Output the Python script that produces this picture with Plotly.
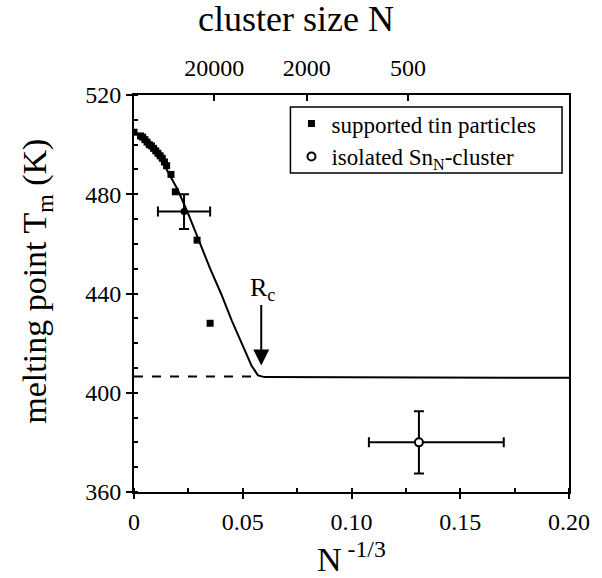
import numpy as np
import plotly.graph_objects as go

# Supported tin particles (N^-1/3, Tm in K)
sup_x = [0.0, 0.003, 0.004, 0.005, 0.006, 0.007, 0.008, 0.009, 0.010, 0.011, 0.012,
         0.013, 0.014, 0.015, 0.017, 0.019, 0.029, 0.035]
sup_y = [505, 503.5, 503, 502, 501, 500, 499.5, 498.5, 497.5, 496.5, 495.5,
         494.5, 493, 491.5, 488, 481, 461.5, 428]

# Supported point with error bars
eb_x = [0.023]
eb_y = [473]
eb_xerr = [0.012]
eb_yerr = [7]

# Isolated Sn_N cluster
iso_x = [0.131]
iso_y = [380]
iso_xerr_plus = [0.039]
iso_xerr_minus = [0.023]
iso_yerr = [12.5]

# Theory curve
th_x = [0.0, 0.005, 0.01, 0.015, 0.02, 0.025, 0.03, 0.035, 0.04, 0.045, 0.05, 0.054, 0.057, 0.06, 0.2]
th_y = [505.5, 502, 497, 490, 482, 472, 461, 450, 440, 429, 419, 411, 407, 406.3, 406]

# Bulk-limit dashed line
dash_x = [0.0, 0.057]
dash_y = [406.5, 406.5]

# Top axis cluster sizes
top_N = [20000, 2000, 500]
top_labels = ["20000", "2000", "500"]

# Rc marker
rc_x = 0.0585
rc_text_y = 442
rc_arrow_from = 436
rc_arrow_to = 411

FONT = "Liberation Serif"

fig = go.Figure()

fig.add_trace(go.Scatter(x=dash_x, y=dash_y, mode="lines",
                         line=dict(color="black", width=2, dash="dash"),
                         showlegend=False, hoverinfo="skip"))
fig.add_trace(go.Scatter(x=th_x, y=th_y, mode="lines",
                         line=dict(color="black", width=2),
                         showlegend=False, hoverinfo="skip"))
fig.add_trace(go.Scatter(x=sup_x, y=sup_y, mode="markers",
                         marker=dict(symbol="square", size=7, color="black"),
                         name="supported tin particles"))
fig.add_trace(go.Scatter(x=eb_x, y=eb_y, mode="markers",
                         marker=dict(symbol="circle", size=7, color="black"),
                         error_x=dict(type="data", array=eb_xerr, color="black", thickness=2, width=5),
                         error_y=dict(type="data", array=eb_yerr, color="black", thickness=2, width=5),
                         showlegend=False))
fig.add_trace(go.Scatter(x=iso_x, y=iso_y, mode="markers",
                         marker=dict(symbol="circle", size=8, color="white",
                                     line=dict(color="black", width=2)),
                         error_x=dict(type="data", symmetric=False, array=iso_xerr_plus,
                                      arrayminus=iso_xerr_minus, color="black", thickness=2, width=5),
                         error_y=dict(type="data", array=iso_yerr, color="black", thickness=2, width=5),
                         name="isolated Sn<sub>N</sub>-cluster"))

# dummy trace for top axis
top_vals = [n ** (-1.0 / 3.0) for n in top_N]
fig.add_trace(go.Scatter(x=top_vals, y=[None] * len(top_vals), xaxis="x2",
                         showlegend=False, hoverinfo="skip"))

fig.add_annotation(x=rc_x, y=rc_arrow_to, ax=rc_x, ay=rc_arrow_from,
                   xref="x", yref="y", axref="x", ayref="y",
                   showarrow=True, arrowhead=2, arrowsize=1.6, arrowwidth=2,
                   arrowcolor="black", text="")
fig.add_annotation(x=rc_x + 0.0008, y=rc_text_y, xref="x", yref="y", showarrow=False,
                   text="R<sub>c</sub>", font=dict(family=FONT, size=26, color="black"),
                   yanchor="middle")

# Axis titles as annotations
fig.add_annotation(x=0.373, y=1.191, xref="paper", yref="paper", showarrow=False,
                   text="cluster size N", font=dict(family=FONT, size=36, color="black"),
                   xanchor="center", yanchor="middle")
fig.add_annotation(x=0.5, y=-0.163, xref="paper", yref="paper", showarrow=False,
                   text="N<sup> -1/3</sup>", font=dict(family=FONT, size=34, color="black"),
                   xanchor="center", yanchor="middle")
fig.add_annotation(x=-0.225, y=0.53, xref="paper", yref="paper", showarrow=False,
                   text="melting point T<sub>m</sub> (K)", textangle=-90,
                   font=dict(family=FONT, size=34, color="black"),
                   xanchor="center", yanchor="middle")

# Legend frame
fig.add_shape(type="rect", xref="paper", yref="paper",
              x0=0.3596, x1=0.984, y0=0.8035, y1=0.97,
              line=dict(color="black", width=1.5), fillcolor="rgba(0,0,0,0)", layer="above")

fig.update_layout(
    width=602, height=578,
    margin=dict(l=134, r=23, t=95, b=86),
    paper_bgcolor="white", plot_bgcolor="white",
    font=dict(family=FONT, color="black", size=24),
    xaxis=dict(range=[0, 0.2], tickvals=[0, 0.05, 0.10, 0.15, 0.20],
               ticktext=["0", "0.05", "0.10", "0.15", "0.20"],
               showgrid=False, zeroline=False, showline=True, linecolor="black",
               linewidth=2, mirror=True, ticks="outside", ticklen=5, tickwidth=2,
               tickcolor="black", tickfont=dict(size=24), ticklabelstandoff=2,
               minor=dict(dtick=0.025, ticks="inside", ticklen=4, tickcolor="black")),
    xaxis2=dict(range=[0, 0.2], overlaying="x", side="top", tickvals=top_vals,
                ticktext=top_labels, showgrid=False, zeroline=False,
                ticks="inside", ticklen=6, tickwidth=2, tickcolor="black",
                tickfont=dict(size=24), ticklabelstandoff=13),
    yaxis=dict(range=[360, 520], tickvals=[360, 400, 440, 480, 520],
               showgrid=False, zeroline=False, showline=True, linecolor="black",
               linewidth=2, mirror=True, ticks="outside", ticklen=6, tickwidth=2,
               tickcolor="black", tickfont=dict(size=24),
               minor=dict(dtick=10, ticks="inside", ticklen=4, tickcolor="black")),
    legend=dict(x=0.362, y=0.982, xanchor="left", yanchor="top",
                borderwidth=0, bgcolor="rgba(0,0,0,0)",
                font=dict(size=23), tracegroupgap=0, itemwidth=30),
    showlegend=True,
)

fig.write_html("out.html", config={"displayModeBar": False},
               post_script="document.body.style.margin='0';")
